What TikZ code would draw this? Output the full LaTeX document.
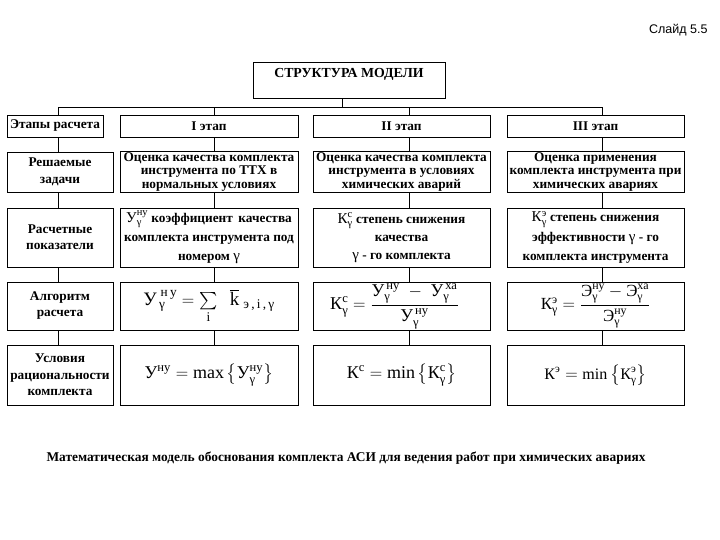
\documentclass[tikz,border=0pt]{standalone}
\usepackage{amsmath}
\usepackage{fontspec}
\setmainfont{Liberation Serif}
\newfontfamily\slidefont{Liberation Sans}
\newcommand\cy[1]{\textnormal{#1}}
\newcommand\gmm{\textnormal{γ}}
\newcommand\bgmath[1]{{\fontsize{15}{15}\selectfont$#1$}}
\begin{document}
\begin{tikzpicture}[x=1pt,y=-1pt,
  box/.style={draw, line width=0.8pt, inner sep=1pt, align=center,
    font=\bfseries\fontsize{13.3}{13.5}\selectfont},
  conn/.style={line width=0.8pt},
  wide/.style={minimum width=177, minimum height=#1},
  narrow/.style={minimum width=106, minimum height=#1}]
\useasboundingbox (0,0) rectangle (720,540);

\node[anchor=east, font=\slidefont\fontsize{12.5}{14}\selectfont] (slide) at (711,30) {Слайд 5.5};

\node[box, minimum width=192, minimum height=36, text depth=15pt,
  font=\bfseries\fontsize{13.8}{14}\selectfont] (title) at (349,80) {СТРУКТУРА МОДЕЛИ};

% row 1
\node[box, minimum width=96, minimum height=22] (r1c1) at (55,126) {Этапы расчета};
\node[box, minimum width=178, minimum height=22] (r1c2) at (209,126) {I этап};
\node[box, wide=22] (r1c3) at (401.5,126) {II этап};
\node[box, wide=22] (r1c4) at (595.5,126) {III этап};

% row 2
\node[box, narrow=40, font=\bfseries\fontsize{13.3}{17}\selectfont] (r2c1) at (60,172) {Решаемые\\задачи};
\node[box, minimum width=178, minimum height=40] (r2c2) at (209,172) {Оценка качества комплекта\\инструмента по ТТХ в\\нормальных условиях};
\node[box, wide=40] (r2c3) at (401.5,172) {Оценка качества комплекта\\инструмента в условиях\\химических аварий};
\node[box, wide=40] (r2c4) at (595.5,172) {Оценка применения\\комплекта инструмента при\\химических авариях};

% row 3
\node[box, narrow=59, font=\bfseries\fontsize{13.3}{16}\selectfont] (r3c1) at (60,237.5) {Расчетные\\показатели};
\node[box, minimum width=178, minimum height=59, font=\bfseries\fontsize{13.3}{19}\selectfont] (r3c2) at (209,237.5)
  {\bgmath{\cy{У}^{\cy{ну}}_{\gmm}} коэффициент\, качества\\комплекта инструмента под\\номером \bgmath{\gmm}};
\node[box, wide=59, font=\bfseries\fontsize{13.3}{18}\selectfont] (r3c3) at (401.5,237.5)
  {\bgmath{\cy{К}^{\cy{с}}_{\gmm}} степень снижения\\качества\\\bgmath{\gmm} - го комплекта};
\node[box, wide=59, font=\bfseries\fontsize{13.3}{19.5}\selectfont] (r3c4) at (595.5,237.5)
  {\bgmath{\cy{К}^{\cy{э}}_{\gmm}} степень снижения\\эффективности \bgmath{\gmm} - го\\комплекта инструмента};

% row 4
\node[box, narrow=48, font=\bfseries\fontsize{13.3}{16}\selectfont] (r4c1) at (60,306) {Алгоритм\\расчета};
\node[box, minimum width=178, minimum height=48, font=\fontsize{19}{20}\selectfont] (r4c2) at (209,306)
  {$\cy{У}^{\;\cy{н\,у}}_{\,\gmm} = \sum\limits_{\cy{i}}\;\;\overline{\cy{k}}_{\;\cy{э\,,\,i\,,\,γ}}$};
\node[box, wide=48, font=\fontsize{18}{18}\selectfont] (r4c3) at (401.5,306)
  {$\cy{К}^{\cy{с}}_{\gmm} = \dfrac{\cy{У}^{\,\cy{ну}}_{\gmm}\; - \;\cy{У}^{\,\cy{ха}}_{\gmm}}{\cy{У}^{\,\cy{ну}}_{\gmm}}$\hspace{14pt}};
\node[box, wide=48, font=\fontsize{17}{18}\selectfont] (r4c4) at (595.5,306)
  {$\cy{К}^{\cy{э}}_{\gmm} = \dfrac{\cy{Э}^{\cy{ну}}_{\gmm} - \cy{Э}^{\cy{ха}}_{\gmm}}{\cy{Э}^{\cy{ну}}_{\gmm}}$};

% row 5
\node[box, narrow=60, font=\bfseries\fontsize{13.3}{16.5}\selectfont] (r5c1) at (60,375) {Условия\\рациональности\\комплекта};
\node[box, minimum width=178, minimum height=60, font=\fontsize{18}{20}\selectfont] (r5c2) at (209,375)
  {$\cy{У}^{\cy{ну}} = \max\left\{\cy{У}^{\cy{ну}}_{\gmm}\right\}$};
\node[box, wide=60, font=\fontsize{18}{20}\selectfont] (r5c3) at (401.5,375)
  {$\cy{К}^{\cy{с}} = \min\left\{\cy{К}^{\cy{с}}_{\gmm}\right\}$};
\node[box, wide=60, font=\fontsize{16}{20}\selectfont] (r5c4) at (595.5,375)
  {$\cy{К}^{\cy{э}} = \min\left\{\cy{К}^{\cy{э}}_{\gmm}\right\}$};

\node[font=\bfseries\fontsize{13.4}{14}\selectfont] (caption) at (346,458)
  {Математическая модель обоснования комплекта АСИ для ведения работ при химических авариях};

% bus
\coordinate (bus) at (342,107);
\draw[conn] ([xshift=-7]title.south) -- (bus);
\draw[conn] ([xshift=3]r1c1.north) |- (bus);
\draw[conn] ([xshift=5]r1c2.north) |- (bus);
\draw[conn] ([xshift=7.5]r1c3.north) |- (bus);
\draw[conn] ([xshift=6.5]r1c4.north) |- (bus);

% column connectors
\draw[conn] ([xshift=-2]r2c1.north) -- ([xshift=-2]r2c1.north |- r1c1.south);
\foreach \a/\b in {2/3,3/4,4/5}{
  \draw[conn] ([xshift=-2]r\a c1.south) -- ([xshift=-2]r\b c1.north);
}
\foreach \a/\b in {1/2,2/3,3/4,4/5}{
  \draw[conn] ([xshift=5]r\a c2.south) -- ([xshift=5]r\b c2.north);
  \draw[conn] ([xshift=7.5]r\a c3.south) -- ([xshift=7.5]r\b c3.north);
  \draw[conn] ([xshift=6.5]r\a c4.south) -- ([xshift=6.5]r\b c4.north);
}
\end{tikzpicture}
\end{document}
